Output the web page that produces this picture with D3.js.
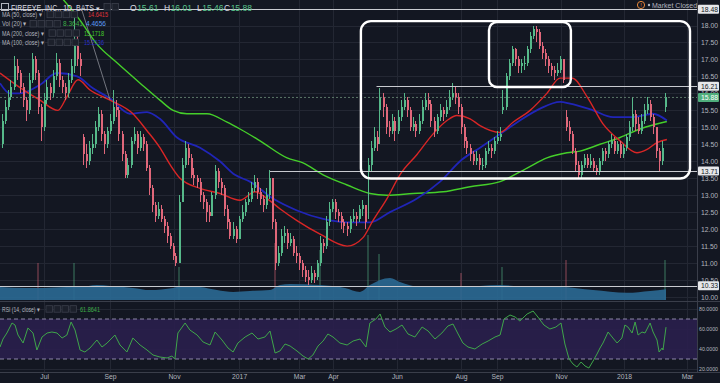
<!DOCTYPE html>
<html>
<head>
<meta charset="utf-8">
<script src="https://cdn.jsdelivr.net/npm/d3@7"></script>
<style>
  html, body { margin: 0; background: #131722; }
  svg { display: block; font-family: "Liberation Sans", Arial, sans-serif; }
</style>
</head>
<body>
<svg id="chart" width="720" height="383"></svg>
<script>
// --- data (one candle = 2 sessions) ---
const firstOpen = 14.5;
const closes = [
  15.2,15.6,15.9,16.2,16.8,16.6,16.2,15.8,15.5,16.4,
  17.0,16.6,15.6,15.0,15.8,16.2,16.0,16.5,16.9,16.4,
  16.2,16.0,16.4,16.8,17.4,17.0,16.8,14.2,14.0,14.4,
  14.5,15.0,15.4,14.8,14.5,14.9,15.2,15.6,15.5,14.8,
  14.2,13.6,13.9,14.6,14.8,14.4,14.7,14.5,13.8,13.2,
  12.7,12.4,12.6,12.3,12.1,11.8,11.5,11.2,11.0,12.8,
  13.9,14.4,14.1,13.6,13.5,13.4,13.0,12.8,12.5,12.4,
  13.0,13.7,13.4,13.2,12.6,12.2,11.8,12.0,11.7,12.3,
  12.5,12.8,12.9,13.2,13.4,13.1,12.9,12.7,13.0,13.5,
  12.2,11.0,11.3,11.8,11.9,11.6,11.7,11.3,11.2,11.0,
  10.8,10.6,10.5,10.7,10.6,11.0,11.6,11.5,12.2,12.6,
  12.8,12.5,12.4,12.2,12.1,12.0,12.3,12.4,12.3,12.6,
  12.7,12.2,13.9,14.4,14.7,14.5,15.9,15.6,15.0,14.9,
  15.2,14.9,15.3,15.6,15.8,15.5,15.0,15.1,14.9,15.2,
  15.6,15.8,15.7,15.2,14.9,15.3,15.5,15.4,15.6,15.9,
  16.0,15.9,15.6,15.0,14.6,14.4,14.2,14.0,14.1,13.9,
  13.9,14.3,14.4,14.3,14.6,14.7,14.8,15.6,16.5,16.9,
  17.3,17.0,16.8,16.9,16.9,17.3,17.7,17.9,17.8,17.4,
  17.2,17.0,16.8,16.7,16.6,16.7,17.0,16.4,15.0,14.8,
  14.3,13.9,13.6,13.9,14.1,13.9,14.0,13.8,13.7,14.0,
  14.3,14.2,14.5,14.6,14.3,14.5,14.2,14.4,14.7,15.0,
  15.4,15.1,14.9,15.2,15.5,15.7,15.3,15.0,14.3,14.0,
  14.4,15.88
];
const highs = [
  15.4,15.8,16.1,16.4,17.1,17.0,16.7,16.3,15.9,16.6,
  17.2,17.1,16.7,15.7,16.0,16.4,16.3,16.7,17.2,17.0,
  16.5,16.3,16.6,17.0,18.3,17.7,17.2,14.8,14.5,14.6,
  14.8,15.2,15.6,15.5,14.9,15.0,15.4,16.1,15.8,15.6,
  14.9,14.3,14.1,14.7,15.0,14.9,14.9,14.8,14.6,13.9,
  13.3,12.8,12.8,12.7,12.4,12.2,11.9,11.6,11.3,13.0,
  14.1,14.6,14.5,14.2,13.8,13.6,13.5,13.1,12.9,12.7,
  13.1,13.9,13.8,13.5,13.3,12.7,12.3,12.2,12.1,12.4,
  12.7,12.9,13.1,13.4,13.6,13.5,13.2,13.0,13.2,13.75,
  13.4,12.3,11.5,12.0,12.1,12.0,11.9,11.8,11.5,11.3,
  11.1,10.9,10.8,10.9,10.8,11.1,11.8,11.7,12.4,12.8,
  12.9,12.9,12.6,12.5,12.3,12.2,12.4,12.6,12.5,12.7,
  12.85,12.7,14.1,14.6,15.0,14.9,16.15,16.0,15.7,15.2,
  15.4,15.3,15.5,15.8,16.0,15.9,15.6,15.3,15.2,15.4,
  15.8,16.0,16.0,15.8,15.3,15.4,15.7,15.6,15.8,16.1,
  16.3,16.2,16.0,15.7,15.1,14.7,14.5,14.3,14.3,14.2,
  14.1,14.4,14.6,14.5,14.7,14.9,15.0,16.1,16.6,17.0,
  17.4,17.35,17.1,17.0,17.1,17.4,17.8,18.0,18.0,17.9,
  17.5,17.3,17.1,16.9,16.8,16.9,17.1,17.0,15.5,15.2,
  14.9,14.4,14.0,14.0,14.2,14.2,14.2,14.1,13.9,14.1,
  14.4,14.4,14.6,14.8,14.7,14.6,14.6,14.5,14.8,15.2,
  15.9,15.5,15.3,15.4,15.7,15.9,15.8,15.4,15.0,14.4,
  14.6,16.01
];
const lows = [
  14.4,15.1,15.5,15.8,16.1,16.4,16.0,15.6,15.2,15.4,
  16.3,16.4,15.4,14.6,14.9,15.7,15.8,15.9,16.4,16.2,
  16.0,15.8,15.9,16.3,16.6,16.8,16.5,13.9,13.8,13.9,
  14.2,14.4,14.9,14.6,14.2,14.4,14.8,15.1,15.3,14.6,
  14.0,13.5,13.5,13.8,14.5,14.2,14.3,14.3,13.7,13.0,
  12.5,12.2,12.3,12.2,11.9,11.6,11.4,11.1,10.9,11.0,
  12.8,13.8,13.9,13.5,13.3,13.2,12.8,12.6,12.2,12.2,
  12.4,12.9,13.2,13.0,12.4,12.0,11.7,11.7,11.6,11.7,
  12.2,12.4,12.7,12.8,13.1,12.9,12.7,12.5,12.6,12.9,
  12.0,10.8,10.9,11.2,11.6,11.4,11.5,11.2,11.0,10.8,
  10.6,10.45,10.35,10.4,10.4,10.5,10.9,11.3,11.4,12.1,
  12.5,12.3,12.2,12.0,11.9,11.8,11.9,12.2,12.1,12.2,
  12.4,12.0,12.3,13.7,14.3,14.3,14.5,15.3,14.8,14.7,
  14.8,14.6,14.8,15.2,15.5,15.3,14.9,14.9,14.7,14.8,
  15.1,15.5,15.5,15.0,14.7,14.8,15.2,15.2,15.3,15.5,
  15.8,15.7,15.4,14.8,14.4,14.2,14.0,13.9,13.9,13.75,
  13.75,13.8,14.2,14.1,14.2,14.5,14.6,15.4,15.5,16.4,
  16.8,16.8,16.6,16.6,16.7,16.8,17.2,17.6,17.5,17.3,
  17.0,16.8,16.6,16.5,16.4,16.5,16.6,16.3,14.9,14.6,
  14.2,13.7,13.5,13.5,13.8,13.8,13.8,13.7,13.6,13.6,
  13.9,14.0,14.1,14.4,14.2,14.2,14.1,14.1,14.3,14.6,
  14.9,14.9,14.8,14.8,15.1,15.4,15.2,14.8,14.1,13.71,
  13.9,15.46
];
// [candle, open] where the session opened on a gap
const gapOpens = [[27, 14.7], [122, 13.7], [126, 15.5], [167, 15.5], [188, 15.3], [221, 15.61]];

// moving averages, [candle, value]
const ma50 = [[-0.5,16.6],[6.2,16.17],[12.8,15.8],[18.8,15.5],[21.8,15.9],[25.5,16.4],[29.5,16.1],[36.2,15.8],
  [43.8,15.4],[48.5,14.9],[52.8,14.4],[56.2,13.9],[59.5,13.5],[66.2,13.2],[72.8,13.05],[79.5,12.85],[84.5,13.1],
  [88.5,12.9],[92.8,12.6],[98.5,12.25],[106.2,11.85],[115.2,11.5],[120.5,11.75],[123.8,12.25],[128.5,12.9],
  [132.8,13.6],[138.5,14.2],[143.8,14.8],[148.5,15.2],[151.8,15.35],[156.2,15.25],[159.5,15.05],[166.2,14.85],
  [170.5,15.15],[176.2,15.5],[181.8,16.0],[186.2,16.45],[190.2,16.45],[195.2,15.9],[200.5,15.1],[206.2,14.6],
  [211.8,14.25],[215.2,14.35],[218.5,14.55],[221.8,14.64]];
const ma100 = [[-0.5,16.3],[2.8,16.0],[6.2,16.0],[12.8,16.25],[18.5,16.6],[25.2,16.5],[30.5,16.15],[36.2,15.85],
  [42.8,15.4],[48.5,15.45],[52.8,15.25],[58.5,14.7],[66.2,14.4],[72.8,14.0],[77.8,13.6],[82.8,13.4],[90.5,12.9],
  [98.5,12.55],[107.2,12.3],[115.2,12.2],[122.8,12.2],[129.5,12.5],[138.5,12.9],[146.2,13.4],[153.5,14.05],
  [159.5,14.4],[166.2,14.8],[172.8,15.2],[179.5,15.55],[186.2,15.75],[189.5,15.7],[197.2,15.5],[203.8,15.3],
  [210.5,15.3],[217.2,15.4],[221.8,15.2]];
const ma200 = [[17.8,19.05],[26.2,18.15],[31.8,17.45],[38.5,16.9],[46.2,16.3],[52.8,15.8],[57.2,15.5],[61.8,15.4],
  [68.5,15.4],[75.2,15.15],[79.5,14.95],[86.2,14.6],[95.2,14.1],[100.5,13.95],[107.2,13.6],[115.2,13.3],
  [122.8,13.05],[128.5,13.0],[137.2,13.05],[147.2,13.1],[156.2,13.25],[166.2,13.4],[175.2,13.8],[181.8,14.1],
  [188.5,14.25],[192.8,14.3],[199.5,14.5],[206.2,14.7],[212.8,14.95],[221.8,15.17]];

// volume (millions): 20-period average and the taller single bars
const volMA = [[-0.5,4.2],[8.5,3.9],[13.8,3.9],[21.8,4.2],[26.2,4.2],[31.8,4.8],[36.2,4.5],[43.8,3.9],[49.5,3.2],
  [57.2,3.9],[60.5,4.5],[66.2,4.2],[71.8,3.2],[77.2,2.6],[82.8,2.9],[89.5,3.2],[92.8,4.8],[96.2,5.2],[106.2,4.8],
  [114.5,3.9],[119.5,2.6],[122.8,4.8],[129.5,7.1],[132.8,5.8],[139.5,4.2],[152.8,4.2],[166.2,4.8],[176.2,4.2],
  [186.2,4.2],[197.2,3.2],[208.5,2.3],[216.2,2.9],[221.5,3.5]];
const volSpikes = [[12,11.9],[24,12.0],[59,10.6],[91,18.4],[106,16],[122,21],[126,15],[153,8.7],[167,10.6],[188,13],[221,13]];

// RSI(14), [candle, value]
const rsi = [[-0.5,42],[0.5,50],[1.8,56],[3.5,66],[4.5,64],[5.5,54],[7.2,46],[8.8,61],[10.5,56],[11.8,39],[13.5,52],
  [15.2,56],[16.8,57],[18.5,56],[20.2,51],[21.8,54],[23.2,67],[24.5,59],[26.2,39],[27.8,37],[29.5,41],[31.8,49],
  [33.5,42],[35.2,46],[37.8,54],[39.5,44],[41.8,37],[43.8,51],[46.2,44],[48.5,39],[50.5,34],[52.8,32],[55.2,31],
  [56.8,33],[57.8,30],[58.8,56],[61.2,66],[62.8,59],[65.2,54],[67.2,47],[69.5,44],[71.2,57],[73.5,49],[75.5,41],
  [77.2,37],[78.8,46],[81.2,52],[83.5,56],[85.5,50],[87.8,52],[89.5,58],[91.2,36],[92.8,38],[94.5,45],[96.2,43],
  [98.5,38],[100.5,33],[102.2,30],[103.8,34],[105.5,43],[107.2,48],[108.8,55],[110.5,52],[112.8,46],[115.2,44],
  [117.2,48],[119.5,50],[121.5,42],[122.8,66],[124.8,70],[126.2,75],[127.8,62],[129.5,57],[131.5,60],[133.5,64],
  [135.5,55],[137.8,52],[140.2,62],[142.2,58],[144.5,50],[146.8,56],[148.8,63],[150.5,65],[152.2,55],[153.8,46],
  [155.5,42],[157.8,40],[160.2,45],[162.2,48],[164.5,52],[166.2,54],[167.5,70],[169.5,74],[171.2,72],[172.8,68],
  [175.2,75],[177.2,78],[178.8,72],[180.8,64],[182.8,60],[184.8,62],[186.5,66],[187.8,45],[189.2,30],[190.5,25],
  [191.8,22],[193.2,27],[194.5,23],[195.8,21],[197.2,28],[198.5,35],[199.5,41],[200.5,46],[202.2,57],[203.8,51],
  [205.2,46],[206.8,51],[207.8,64],[208.8,62],[210.2,56],[211.2,67],[212.2,54],[213.5,57],[214.5,56],[216.2,66],
  [217.2,57],[218.5,49],[219.2,37],[220.2,41],[220.5,39],[221.5,61.86]];

// axes
const monthLabels = ['Jul','Sep','Nov','2017','Mar','Apr','Jun','Aug','Sep','Nov','2018','Mar'];
const monthStarts = [14.2,36.2,57.5,79.2,99.2,110.5,131.8,153.2,165.2,186.5,207.5,228.5];
const priceTicks = [10,10.5,11,11.5,12,12.5,13,13.5,14,14.5,15,15.5,16,16.5,17,17.5,18];
const rsiTicks = [20,40,60,80];

// drawings on the chart
const levels = [[-0.5, 18.48], [125, 16.21], [89.5, 13.71], [-0.5, 10.33]];
const zones = [[119.8, 229.5, 18.13, 13.49, 10], [162.5, 189.8, 18.1, 16.19, 8]];
const trendLine = [[26.7, 18.48], [36.2, 15.8]];
const lastPrice = 15.88;

// --- layout ---
const W = 720, PANE_R = 697, PANE_B = 301, RSI_T = 302, RSI_B = 372;
const UP = '#56b98a', DOWN = '#e0677a', TXT = '#b2b5be', GRID = '#232733';

const svg = d3.select('#chart');
const x = d3.scaleLinear().domain([-0.5, 221.5]).range([0, 666]);
const y = d3.scaleLinear().domain([10, 18]).range([297, 25.5]);
const yRsi = d3.scaleLinear().domain([20, 80]).range([369, 309]);
const yVol = d3.scaleLinear().domain([0, 20]).range([300, 238]);

const defs = svg.append('defs');
defs.append('clipPath').attr('id', 'pane').append('rect').attr('width', PANE_R).attr('height', PANE_B);
defs.append('clipPath').attr('id', 'rpane').append('rect').attr('y', RSI_T).attr('width', PANE_R).attr('height', RSI_B - RSI_T);

svg.append('rect').attr('width', W).attr('height', 383).attr('fill', '#131722');

// grid
const grid = svg.append('g').attr('shape-rendering', 'crispEdges').attr('stroke', GRID);
grid.selectAll('.hg').data(priceTicks).join('line')
  .attr('x1', 0).attr('x2', PANE_R).attr('y1', d => Math.round(y(d)) + 0.5).attr('y2', d => Math.round(y(d)) + 0.5);
grid.selectAll('.rg').data(rsiTicks).join('line')
  .attr('x1', 0).attr('x2', PANE_R).attr('y1', d => Math.round(yRsi(d)) + 0.5).attr('y2', d => Math.round(yRsi(d)) + 0.5);
grid.selectAll('.vg').data(monthStarts).join('line')
  .attr('x1', d => Math.round(x(d)) + 0.5).attr('x2', d => Math.round(x(d)) + 0.5).attr('y1', 0).attr('y2', RSI_B);

// volume
const pane = svg.append('g').attr('clip-path', 'url(#pane)');
const candles = closes.map((c, i) => {
  const g = gapOpens.find(d => d[0] === i);
  const o = g ? g[1] : (i === 0 ? firstOpen : closes[i - 1]);
  return { i, o, c, h: Math.max(highs[i], o, c), l: Math.min(lows[i], o, c) };
});
pane.append('g').attr('shape-rendering', 'crispEdges').selectAll('rect').data(volSpikes).join('rect')
  .attr('x', d => Math.round(x(d[0])) - 1).attr('width', 2)
  .attr('y', d => yVol(d[1])).attr('height', d => yVol(0) - yVol(d[1]))
  .attr('fill', d => candles[d[0]].c >= candles[d[0]].o ? UP : DOWN).attr('opacity', 0.3);
pane.append('path').datum(volMA)
  .attr('d', d3.area().x(d => x(d[0])).y0(yVol(0)).y1(d => yVol(d[1])).curve(d3.curveMonotoneX))
  .attr('fill', '#2a6891').attr('opacity', 0.92);

// MAs
const lineP = d3.line().x(d => x(d[0])).y(d => y(d[1])).curve(d3.curveMonotoneX);
pane.append('path').datum(ma200).attr('d', lineP).attr('fill', 'none').attr('stroke', '#45cf2a').attr('stroke-width', 1.4);
pane.append('path').datum(ma100).attr('d', lineP).attr('fill', 'none').attr('stroke', '#2025b8').attr('stroke-width', 1.8);
pane.append('path').datum(ma50).attr('d', lineP).attr('fill', 'none').attr('stroke', '#d92626').attr('stroke-width', 1.4);

// candles
const cg = pane.append('g').attr('shape-rendering', 'crispEdges').selectAll('g').data(candles).join('g');
cg.append('line')
  .attr('x1', d => Math.round(x(d.i)) + 0.5).attr('x2', d => Math.round(x(d.i)) + 0.5)
  .attr('y1', d => y(d.h)).attr('y2', d => y(d.l))
  .attr('stroke', d => d.c >= d.o ? UP : DOWN);
cg.append('rect')
  .attr('x', d => Math.round(x(d.i)))
  .attr('width', 2)
  .attr('y', d => y(Math.max(d.o, d.c)))
  .attr('height', d => Math.max(1, Math.abs(y(d.o) - y(d.c))))
  .attr('fill', d => d.c >= d.o ? UP : DOWN);

// last price line
pane.append('line').attr('x1', 0).attr('x2', PANE_R).attr('y1', y(lastPrice)).attr('y2', y(lastPrice))
  .attr('stroke', '#6f8f7a').attr('stroke-dasharray', '2 2').attr('stroke-width', 0.8);

// drawings
const draw = svg.append('g');
draw.selectAll('.lv').data(levels).join('line')
  .attr('x1', d => Math.max(0, x(d[0]))).attr('x2', PANE_R)
  .attr('y1', d => Math.round(y(d[1])) + 0.5).attr('y2', d => Math.round(y(d[1])) + 0.5)
  .attr('stroke', '#c8cad0').attr('stroke-width', 1);
draw.append('line')
  .attr('x1', x(trendLine[0][0])).attr('y1', y(trendLine[0][1]))
  .attr('x2', x(trendLine[1][0])).attr('y2', y(trendLine[1][1]))
  .attr('stroke', '#8a8d96').attr('stroke-width', 0.8);
draw.selectAll('.zn').data(zones).join('rect')
  .attr('x', d => x(d[0])).attr('y', d => y(d[2]))
  .attr('width', d => x(d[1]) - x(d[0])).attr('height', d => y(d[3]) - y(d[2]))
  .attr('rx', d => d[4]).attr('fill', 'none').attr('stroke', '#ffffff').attr('stroke-width', 2.4);

// RSI pane
svg.append('line').attr('x1', 0).attr('x2', W).attr('y1', PANE_B + 0.5).attr('y2', PANE_B + 0.5).attr('stroke', '#3a3e4a');
svg.append('rect').attr('x', 0).attr('width', PANE_R)
  .attr('y', yRsi(70)).attr('height', yRsi(30) - yRsi(70)).attr('fill', '#2a1f4c').attr('opacity', 0.9);
svg.selectAll('.rb').data([70, 30]).join('line')
  .attr('x1', 0).attr('x2', PANE_R).attr('y1', d => yRsi(d)).attr('y2', d => yRsi(d))
  .attr('stroke', '#a9a3c4').attr('stroke-dasharray', '4 3').attr('stroke-width', 0.8);
svg.append('g').attr('clip-path', 'url(#rpane)').append('path').datum(rsi)
  .attr('d', d3.line().x(d => x(d[0])).y(d => yRsi(d[1])))
  .attr('fill', 'none').attr('stroke', '#3fa64a').attr('stroke-width', 1);

// axes
svg.append('line').attr('x1', PANE_R + 0.5).attr('x2', PANE_R + 0.5).attr('y1', 0).attr('y2', RSI_B).attr('stroke', '#3a3e4a');
svg.append('line').attr('x1', 0).attr('x2', W).attr('y1', RSI_B + 0.5).attr('y2', RSI_B + 0.5).attr('stroke', '#3a3e4a');

function styleAxis(g, size) {
  g.select('.domain').remove();
  g.selectAll('line').remove();
  g.selectAll('text').attr('fill', TXT).attr('font-size', size).attr('font-family', '"Liberation Sans", Arial, sans-serif');
}
svg.append('g').attr('transform', `translate(${PANE_R + 3},0)`)
  .call(d3.axisRight(y).tickValues(priceTicks).tickFormat(d3.format('.2f')).tickSize(0).tickPadding(1))
  .call(styleAxis, 6.8);
svg.append('g').attr('transform', `translate(${PANE_R + 2},0)`)
  .call(d3.axisRight(yRsi).tickValues(rsiTicks).tickFormat(d3.format('.4f')).tickSize(0).tickPadding(0))
  .call(styleAxis, 6)
  .selectAll('text').attr('textLength', 19).attr('lengthAdjust', 'spacingAndGlyphs');
svg.append('g').attr('transform', `translate(0,${RSI_B})`)
  .call(d3.axisBottom(x).tickValues(monthStarts).tickFormat((d, i) => monthLabels[i]).tickSize(0).tickPadding(2))
  .call(styleAxis, 6.8);

// price labels on the axis
const tags = levels.map(d => ({ v: d[1], bg: '#e6e7ea', fg: '#131722' }))
  .concat([{ v: lastPrice, bg: '#4fae7c', fg: '#ffffff' }]);
const tg = svg.append('g').selectAll('g').data(tags).join('g')
  .attr('transform', d => `translate(${PANE_R + 1},${y(d.v)})`);
tg.append('rect').attr('x', 0).attr('y', -4.5).attr('width', 21).attr('height', 9).attr('fill', d => d.bg).attr('rx', 1);
tg.append('text').attr('x', 3).attr('y', 2.6).attr('font-size', 6.8).attr('fill', d => d.fg).text(d => d.v.toFixed(2));

// header and legends
const hdr = svg.append('g');
hdr.append('rect').attr('x', 1.5).attr('y', 3.5).attr('width', 7).attr('height', 7).attr('fill', 'none').attr('stroke', TXT);
hdr.append('text').attr('x', 11).attr('y', 11).attr('font-size', 9.5).attr('fill', '#d9dbe0')
  .attr('textLength', 83).attr('lengthAdjust', 'spacingAndGlyphs').text('FIREEYE, INC., 1D, BATS');
hdr.append('text').attr('x', 96).attr('y', 10.5).attr('font-size', 7).attr('fill', '#d9dbe0').text('▾');
function icons(gx, gy, n) {
  for (let k = 0; k < n; k++) {
    hdr.append('rect').attr('x', gx + k * 8).attr('y', gy).attr('width', 6.5).attr('height', 6.5)
      .attr('fill', '#1c202b').attr('stroke', '#3b3f4b').attr('stroke-width', 0.8);
  }
}
icons(104, 3.5, 2);
[['O', '15.61', 130], ['H', '16.01', 164], ['L', '15.46', 197], ['C', '15.88', 224]].forEach(([k, v, px]) => {
  const t = hdr.append('text').attr('x', px).attr('y', 11).attr('font-size', 8.5);
  t.append('tspan').attr('fill', '#d9dbe0').text(k);
  t.append('tspan').attr('dx', 0.5).attr('fill', '#59c28c').text(v);
});
const legends = [
  ['MA (50, close) ▾', 40, 47, 4, [['14.6415', '#e0333a', 88]]],
  ['Vol (20) ▾', 25, 30, 4, [['8.3641', '#3fae49', 63], ['4.4656', '#5b9cf6', 86]]],
  ['MA (200, close) ▾', 42, 49, 4, [['15.1718', '#45cf2a', 84]]],
  ['MA (100, close) ▾', 42, 48, 4, [['15.2136', '#2a30c8', 84]]]
];
legends.forEach(([label, len, ix, n, vals], r) => {
  const ly = 17 + r * 9.3;
  hdr.append('text').attr('x', 2).attr('y', ly).attr('font-size', 6.5).attr('fill', TXT)
    .attr('textLength', len).attr('lengthAdjust', 'spacingAndGlyphs').text(label);
  icons(ix, ly - 5.8, n);
  vals.forEach(([v, col, vx]) => hdr.append('text').attr('x', vx).attr('y', ly).attr('font-size', 6.5)
    .attr('fill', col).attr('textLength', 20).attr('lengthAdjust', 'spacingAndGlyphs').text(v));
});
hdr.append('text').attr('x', 2).attr('y', 311.5).attr('font-size', 6.5).attr('fill', TXT)
  .attr('textLength', 38).attr('lengthAdjust', 'spacingAndGlyphs').text('RSI (14, close) ▾');
icons(46, 305.7, 4);
hdr.append('text').attr('x', 80).attr('y', 311.5).attr('font-size', 6.5).attr('fill', '#3fae49')
  .attr('textLength', 20).attr('lengthAdjust', 'spacingAndGlyphs').text('61.8641');

// market status
hdr.append('circle').attr('cx', 641).attr('cy', 5).attr('r', 3.6).attr('fill', 'none').attr('stroke', '#e8883a').attr('stroke-width', 1);
hdr.append('text').attr('x', 641).attr('y', 7.3).attr('text-anchor', 'middle').attr('font-size', 6).attr('fill', '#e8883a').text('!');
hdr.append('circle').attr('cx', 649).attr('cy', 5).attr('r', 1.2).attr('fill', TXT);
hdr.append('text').attr('x', 652).attr('y', 7.5).attr('font-size', 7).attr('fill', TXT).text('Market Closed');
</script>
</body>
</html>
